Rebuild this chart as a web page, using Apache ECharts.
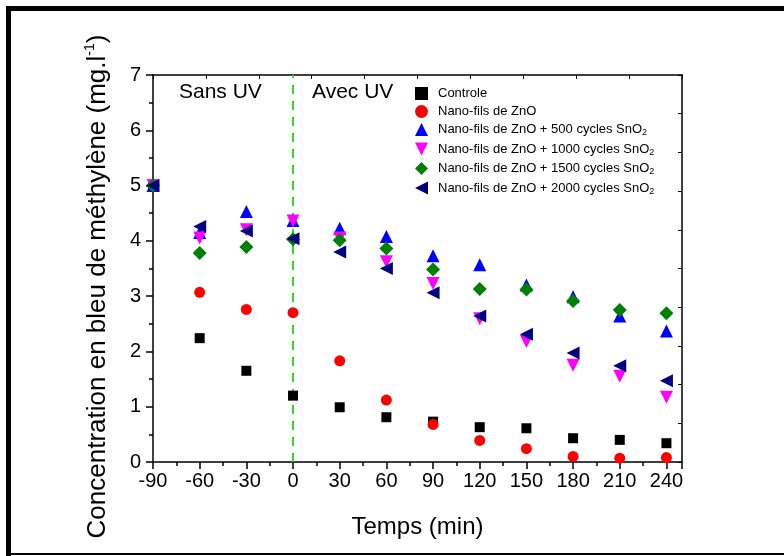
<!DOCTYPE html>
<html><head><meta charset="utf-8">
<script src="https://cdn.jsdelivr.net/npm/echarts@6/dist/echarts.min.js"></script>
<style>html,body{margin:0;padding:0;background:#fff}#c{width:784px;height:556px}</style>
</head><body><div id="c"></div>
<script>
const times = [-90, -60, -30, 0, 30, 60, 90, 120, 150, 180, 210, 240];
const controle = [5.0, 2.24, 1.65, 1.2, 0.99, 0.81, 0.73, 0.63, 0.61, 0.43, 0.40, 0.34];
const znoNW = [5.0, 3.07, 2.76, 2.70, 1.83, 1.12, 0.68, 0.39, 0.24, 0.10, 0.07, 0.08];
const sno500 = [5.0, 4.15, 4.53, 4.37, 4.23, 4.08, 3.73, 3.57, 3.20, 2.99, 2.64, 2.37];
const sno1000 = [5.0, 4.05, 4.20, 4.36, 4.05, 3.62, 3.23, 2.59, 2.18, 1.75, 1.55, 1.17];
const sno1500 = [5.0, 3.78, 3.89, 4.03, 4.01, 3.86, 3.48, 3.13, 3.12, 2.91, 2.75, 2.69];
const sno2000 = [5.0, 4.26, 4.18, 4.04, 3.80, 3.50, 3.06, 2.64, 2.31, 1.97, 1.74, 1.47];
const seriesNames = ['Controle', 'Nano-fils de ZnO', 'Nano-fils de ZnO + 500 cycles SnO2',
  'Nano-fils de ZnO + 1000 cycles SnO2', 'Nano-fils de ZnO + 1500 cycles SnO2', 'Nano-fils de ZnO + 2000 cycles SnO2'];
const xTicks = [-90, 240, 30];
const yTicks = [0, 7, 1];
const uvSwitch = 0;

const chart = echarts.init(document.getElementById('c'), null, {renderer: 'canvas'});
const FONT = 'Liberation Sans, Arial, sans-serif';
const zip = arr => arr.map((v, i) => [times[i], v]);
const styles = [
  {symbol: 'rect', size: 10, color: '#000000', rot: 0, icon: 'rect'},
  {symbol: 'circle', size: 11, color: '#ff0000', rot: 0, icon: 'circle'},
  {symbol: 'triangle', size: 13, color: '#0000ff', rot: 0, icon: 'triangle'},
  {symbol: 'triangle', size: 13, color: '#ff00ff', rot: 180, icon: 'path://M0,0 L10,0 L5,10 Z'},
  {symbol: 'diamond', size: 14, color: '#008000', rot: 0, icon: 'diamond'},
  {symbol: 'triangle', size: 13, color: '#000080', rot: 90, icon: 'path://M10,0 L10,10 L0,5 Z'}
];
const datas = [controle, znoNW, sno500, sno1000, sno1500, sno2000];
const series = datas.map((d, i) => ({
  name: seriesNames[i], type: 'scatter', xAxisIndex: 0, yAxisIndex: 0,
  data: zip(d), symbol: styles[i].symbol, symbolSize: styles[i].size, symbolRotate: styles[i].rot,
  itemStyle: {color: styles[i].color, opacity: 1}, z: 3 + i,
  emphasis: {disabled: true}
}));
series[0].markLine = {
  silent: true, symbol: 'none', z: 1,
  lineStyle: {color: '#22e022', type: [9, 7], width: 2},
  label: {show: false},
  data: [{xAxis: uvSwitch}]
};

chart.setOption({
  animation: false,
  backgroundColor: '#ffffff',
  grid: {left: 153, top: 75, right: 102, bottom: 94, containLabel: false},
  xAxis: [{
    type: 'value', min: xTicks[0], max: 250, interval: xTicks[2], position: 'bottom',
    axisLine: {show: true, onZero: false, lineStyle: {color: '#000', width: 1.5}},
    axisTick: {show: true, inside: false, length: 7, lineStyle: {color: '#000', width: 1.5}},
    minorTick: {show: true, splitNumber: 2, length: 4, lineStyle: {color: '#000', width: 1.5}},
    splitLine: {show: false},
    axisLabel: {show: true, color: '#000', fontSize: 20, fontFamily: FONT, margin: 9, showMaxLabel: false,
      formatter: v => (v > xTicks[1] ? '' : String(v))},
    name: 'Temps (min)', nameLocation: 'middle', nameGap: 53,
    nameTextStyle: {color: '#000', fontSize: 24, fontFamily: FONT}
  }, {
    type: 'value', min: 0, max: 10, interval: 1, position: 'top',
    axisLine: {show: true, onZero: false, lineStyle: {color: '#000', width: 1.5}},
    axisTick: {show: true, inside: true, length: 4, lineStyle: {color: '#000', width: 1}},
    axisLabel: {show: false}, splitLine: {show: false}
  }],
  yAxis: [{
    type: 'value', min: yTicks[0], max: yTicks[1], interval: yTicks[2], position: 'left',
    axisLine: {show: true, onZero: false, lineStyle: {color: '#000', width: 1.5}},
    axisTick: {show: true, inside: false, length: 7, lineStyle: {color: '#000', width: 1.5}},
    minorTick: {show: true, splitNumber: 2, length: 4, lineStyle: {color: '#000', width: 1.5}},
    splitLine: {show: false},
    axisLabel: {show: true, color: '#000', fontSize: 20, fontFamily: FONT, margin: 12},
    name: '{t|Concentration en bleu de méthylène (mg.l}{sup|-1}{t|)}',
    nameLocation: 'middle', nameGap: 42, nameRotate: 90,
    nameTextStyle: {color: '#000', fontSize: 26, fontFamily: FONT, padding: [0, 36, 0, 0],
      rich: {t: {fontSize: 26, fontFamily: FONT, color: '#000', verticalAlign: 'bottom'},
             sup: {fontSize: 14, fontFamily: FONT, color: '#000', verticalAlign: 'top', padding: [0, 0, 14, 0]}}}
  }, {
    type: 'value', min: 0, max: 10, interval: 1, position: 'right',
    axisLine: {show: true, onZero: false, lineStyle: {color: '#000', width: 1.5}},
    axisTick: {show: true, inside: true, length: 4, lineStyle: {color: '#000', width: 1}},
    axisLabel: {show: false}, splitLine: {show: false}
  }],
  legend: {
    orient: 'vertical', left: 410, top: 82, itemWidth: 13, itemHeight: 13, itemGap: 5,
    selectedMode: false,
    data: seriesNames.map((n, i) => ({name: n, icon: styles[i].icon,
      itemStyle: {color: styles[i].color}})),
    formatter: n => {
      if (n.endsWith('SnO2')) return '{t|' + n.slice(0, -1) + '}{s|2}';
      return '{t|' + n + '}';
    },
    textStyle: {color: '#000', fontSize: 13, fontFamily: FONT, padding: [0, 0, 0, 5],
      rich: {t: {fontSize: 13, fontFamily: FONT, color: '#000', height: 15},
             s: {fontSize: 9, fontFamily: FONT, color: '#000', verticalAlign: 'bottom', padding: [7, 0, 0, 0]}}}
  },
  graphic: [
    {type: 'rect', shape: {x: 6, y: 6, width: 778, height: 5}, style: {fill: '#000'}, silent: true},
    {type: 'rect', shape: {x: 6, y: 6, width: 5, height: 550}, style: {fill: '#000'}, silent: true},
    {type: 'rect', shape: {x: 7, y: 553, width: 777, height: 2}, style: {fill: '#000'}, silent: true},
    {type: 'text', left: 179, top: 82, style: {text: 'Sans UV', fill: '#000', fontSize: 21, fontFamily: FONT}},
    {type: 'text', left: 312, top: 82, style: {text: 'Avec UV', fill: '#000', fontSize: 21, fontFamily: FONT}}
  ],
  series: series
});
</script></body></html>
